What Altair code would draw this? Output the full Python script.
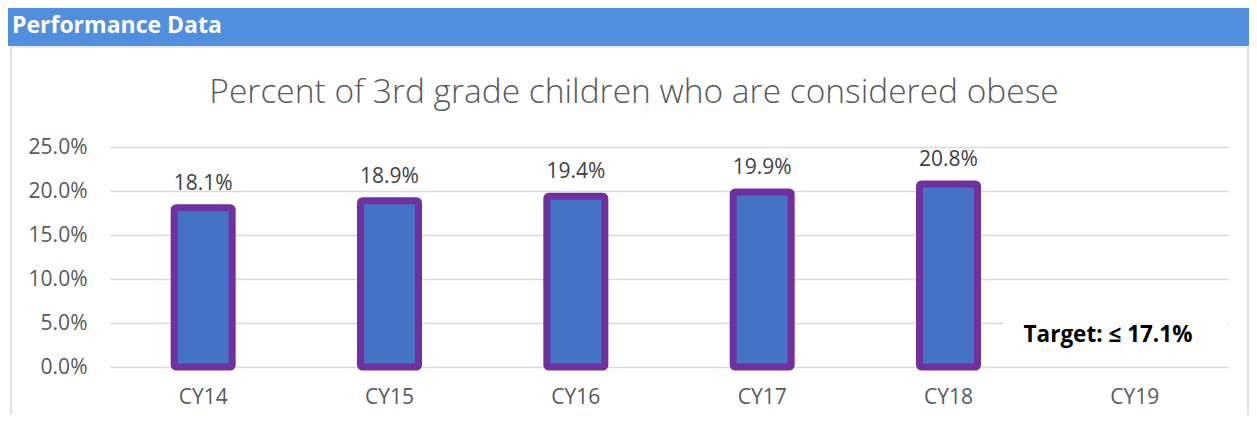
import altair as alt
import pandas as pd

categories = ["CY14", "CY15", "CY16", "CY17", "CY18", "CY19"]
values = [0.181, 0.189, 0.194, 0.199, 0.208, None]
labels = ["18.1%", "18.9%", "19.4%", "19.9%", "20.8%", ""]
y_ticks = [0.0, 0.05, 0.10, 0.15, 0.20, 0.25]

title_text = "Percent of 3rd grade children who are considered obese"
header_text = "Performance Data"
target_text = "Target: \u2264 17.1%"

FONT = "Open Sans"
GREY = "#595959"

df = pd.DataFrame({"cat": categories, "val": values, "lab": labels})
bars_df = df.dropna().copy()
bars_df["val"] = bars_df["val"].astype(float)

W, H = 1118, 220

x_enc = alt.X("cat:N", sort=categories,
              scale=alt.Scale(domain=categories, paddingInner=0, paddingOuter=0),
              axis=alt.Axis(title=None, labelAngle=0, labelFontSize=21, labelColor=GREY,
                            labelFont=FONT, labelPadding=19, ticks=False, domain=False, grid=False))
y_enc = alt.Y("val:Q", stack=None, scale=alt.Scale(domain=[0, 0.25], nice=False),
              axis=alt.Axis(title=None, values=y_ticks, format=".1%", labelFontSize=21,
                            labelColor=GREY, labelFont=FONT, labelPadding=23, ticks=False,
                            domain=False, grid=True, gridColor="#D9D9D9", gridWidth=1.5))

bars = alt.Chart(bars_df).mark_bar(size=58, filled=True, stroke="#7030A0",
                                   strokeWidth=7, cornerRadius=2).encode(
    x=x_enc, y=y_enc, fill=alt.value("#4472C4"))

text = alt.Chart(bars_df).mark_text(baseline="alphabetic", dy=-18, fontSize=21,
                                    color="#404040", font=FONT).encode(
    x=alt.X("cat:N", sort=categories), y="val:Q", text="lab:N")

ann = pd.DataFrame({"t": [target_text]})
box = alt.Chart(ann).mark_rect(color="white").encode(
    x=alt.value(893), x2=alt.value(1117), y=alt.value(172), y2=alt.value(217))
target = alt.Chart(ann).mark_text(fontSize=22.5, fontWeight="bold", color="black",
                                  font=FONT, baseline="alphabetic", align="center").encode(
    x=alt.value(998), y=alt.value(195), text="t:N")

hdr = pd.DataFrame({"t": [header_text]})
header = alt.Chart(hdr).mark_rect(color="#4F8FDD").encode(
    x=alt.value(-102), x2=alt.value(1139), y=alt.value(-139), y2=alt.value(-101))
header_t = alt.Chart(hdr).mark_text(fontSize=23, fontWeight="bold", color="white",
                                    font=FONT, align="left", baseline="alphabetic").encode(
    x=alt.value(-98), y=alt.value(-114), text="t:N")
frame_l = alt.Chart(hdr).mark_rule(color="#D9D9D9", strokeWidth=1.5).encode(
    x=alt.value(-99), y=alt.value(-100), y2=alt.value(268))
frame_r = alt.Chart(hdr).mark_rule(color="#D9D9D9", strokeWidth=1.5).encode(
    x=alt.value(1138), y=alt.value(-100), y2=alt.value(268))
frame_t = alt.Chart(hdr).mark_rule(color="#D9D9D9", strokeWidth=1).encode(
    x=alt.value(-99), x2=alt.value(1138), y=alt.value(-100))

tt = pd.DataFrame({"t": [title_text]})
title = alt.Chart(tt).mark_text(fontSize=33.5, color=GREY, font=FONT, fontWeight=300,
                                align="center", baseline="alphabetic").encode(
    x=alt.value(524), y=alt.value(-44), text="t:N")

chart = alt.layer(header, header_t, frame_l, frame_r, frame_t, title, bars, text, box, target).properties(
    width=W, height=H,
    autosize=alt.AutoSizeParams(type="none"),
    padding={"left": 102, "top": 139, "right": 21, "bottom": 48},
    background="white",
).configure_view(stroke=None)

chart.save("out.html", embed_options={"renderer": "svg", "actions": False})
